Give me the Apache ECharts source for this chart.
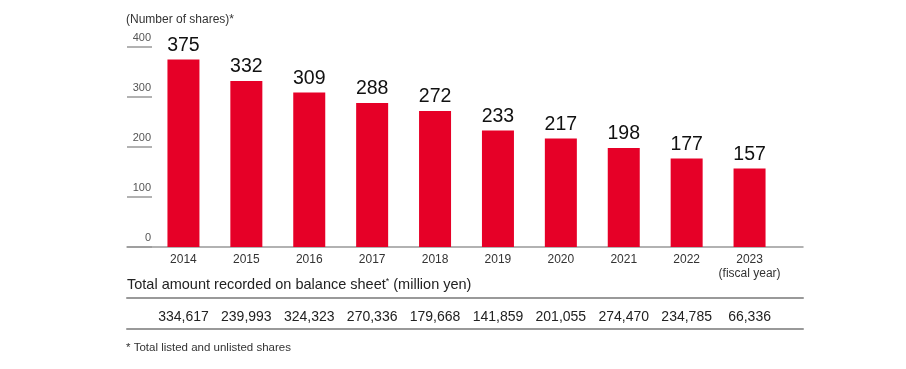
<!DOCTYPE html>
<html><head><meta charset="utf-8">
<script src="https://cdn.jsdelivr.net/npm/echarts@6/dist/echarts.min.js"></script>
<style>html,body{margin:0;padding:0;background:#fff}#c{width:906px;height:369px}</style>
</head><body><div id="c"></div>
<script>
const years = ['2014','2015','2016','2017','2018','2019','2020','2021','2022','2023'];
const shares = [375, 332, 309, 288, 272, 233, 217, 198, 177, 157];
const amounts = ['334,617','239,993','324,323','270,336','179,668','141,859','201,055','274,470','234,785','66,336'];
const yTicks = [0, 100, 200, 300, 400];

const FONT = '"Liberation Sans", Arial, Helvetica, sans-serif';
const chart = echarts.init(document.getElementById('c'), null, {renderer: 'canvas'});
chart.setOption({
  animation: false,
  backgroundColor: '#fff',
  textStyle: {fontFamily: FONT},
  title: [
    {text: '(Number of shares)*', left: 121, top: 9, textStyle: {fontFamily: FONT, fontSize: 12, fontWeight: 'normal', color: '#333'}},
    {text: 'Total amount recorded on balance sheet{s|*} (million yen)', left: 122, top: 272,
      textStyle: {fontFamily: FONT, fontSize: 14.5, fontWeight: 'normal', color: '#222',
        rich: {s: {fontSize: 9, verticalAlign: 'top', lineHeight: 9, color: '#222', fontFamily: FONT}}}},
    {text: '* Total listed and unlisted shares', left: 121, top: 337, textStyle: {fontFamily: FONT, fontSize: 11.5, fontWeight: 'normal', color: '#333'}}
  ],
  grid: [
    {left: 152, right: 125, top: 47, bottom: 122},
    {left: 127, right: 103, top: 47, bottom: 122}
  ],
  xAxis: [
    {type: 'category', gridIndex: 0, data: years.map((y, i) => i === years.length - 1 ? y + '\n(fiscal year)' : y),
      axisLine: {show: false}, axisTick: {show: false},
      axisLabel: {interval: 0, margin: 6, fontSize: 12, color: '#333', lineHeight: 14, fontFamily: FONT}},
    {type: 'category', gridIndex: 0, position: 'bottom', offset: 56, data: amounts,
      axisLine: {show: false}, axisTick: {show: false},
      axisLabel: {interval: 0, margin: 7, fontSize: 14, color: '#222', fontFamily: FONT}},
    {type: 'category', gridIndex: 1, position: 'bottom', offset: 0, data: years,
      axisLine: {show: true, lineStyle: {color: '#999', width: 1.5}}, axisTick: {show: false}, axisLabel: {show: false}},
    {type: 'category', gridIndex: 1, position: 'bottom', offset: 51, data: years,
      axisLine: {show: true, lineStyle: {color: '#999', width: 2}}, axisTick: {show: false}, axisLabel: {show: false}},
    {type: 'category', gridIndex: 1, position: 'bottom', offset: 82, data: years,
      axisLine: {show: true, lineStyle: {color: '#999', width: 2}}, axisTick: {show: false}, axisLabel: {show: false}}
  ],
  yAxis: [
    {type: 'value', gridIndex: 0, min: yTicks[0], max: yTicks[yTicks.length - 1], interval: 100,
      axisLine: {show: false}, splitLine: {show: false},
      axisTick: {show: true, length: 25, lineStyle: {color: '#999', width: 1.5}},
      axisLabel: {margin: 1, fontSize: 11, color: '#555', verticalAlign: 'bottom', padding: [0, 0, 4, 0], fontFamily: FONT}},
    {type: 'value', gridIndex: 1, min: 0, max: 400, show: false}
  ],
  series: [{
    type: 'bar', xAxisIndex: 0, yAxisIndex: 0, data: shares, barWidth: 32,
    itemStyle: {color: '#e60027'},
    label: {show: true, position: 'top', distance: 4, fontSize: 19.5, color: '#111', fontFamily: FONT}
  }]
});
</script></body></html>
